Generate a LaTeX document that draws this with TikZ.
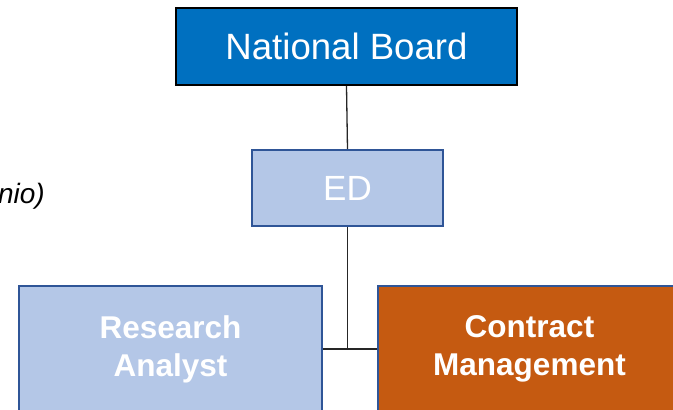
\documentclass[tikz,border=0pt]{standalone}
\usepackage{fontspec}
\setmainfont{Liberation Sans}

\definecolor{boardblue}{HTML}{0070C0}
\definecolor{paleblue}{HTML}{B4C7E7}
\definecolor{edgeblue}{HTML}{2F5597}
\definecolor{rust}{HTML}{C55A11}

\tikzset{
topbox/.style= {rectangle, draw=black, line width=2pt, fill=boardblue, text=white, inner sep=0pt,
  minimum width=341pt, minimum height=77pt, font=\fontsize{36.6}{40}\selectfont},
midbox/.style= {rectangle, draw=edgeblue, line width=2pt, fill=paleblue, text=white, inner sep=0pt,
  minimum width=191pt, minimum height=76pt, font=\fontsize{35}{40}\selectfont},
unitbox/.style= {rectangle, draw=edgeblue, line width=2pt, text=white, inner sep=0pt, align=center,
  minimum width=303pt, minimum height=126pt, font=\fontsize{31.5}{38}\selectfont\bfseries},
link/.style= {draw=black!85, line width=1.3pt}
}

\begin{document}
\begin{tikzpicture}[x=1pt,y=-1pt]
\useasboundingbox (0,0) rectangle (673,410);
\clip (0,0) rectangle (673,410);

% the boxes of the chart
\node[topbox] (board) at (346.5,46.5) {National Board};
\node[midbox] (ed) at (347.5,188) {ED};
\node[unitbox,fill=paleblue] (analyst) at (170.5,349) {Research\\Analyst};
\node[unitbox,fill=rust] (contract) at (529.5,349) {Contract\\Management};

% text running in from the left edge
\node[anchor=base east,inner sep=0pt,font=\fontsize{28}{32}\selectfont\itshape] (note) at (45,203) {nio)};

% lines between the boxes
\coordinate (split) at (ed.south |- analyst.east);
\draw[link] (board.south) -- (ed.north);
\draw[link] (ed.south) -- (split);
\draw[link] (analyst.east) -- (contract.west);
\end{tikzpicture}
\end{document}
